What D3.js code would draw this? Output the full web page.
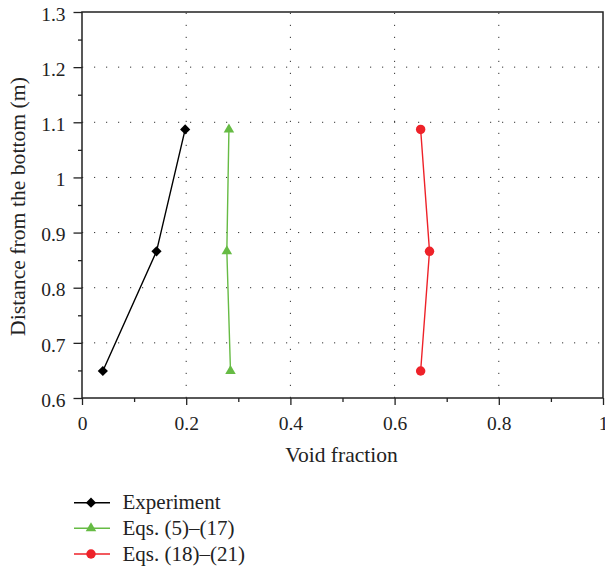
<!DOCTYPE html>
<html><head><meta charset="utf-8">
<script src="https://cdn.jsdelivr.net/npm/d3@7"></script>
<style>body{margin:0;background:#fff}svg{display:block}text{font-family:"Liberation Serif","DejaVu Serif",serif;fill:#222}</style>
</head><body><svg id="c" width="605" height="569"></svg>
<script>
const xTicks = [0, 0.2, 0.4, 0.6, 0.8, 1];
const yTicks = [0.6, 0.7, 0.8, 0.9, 1, 1.1, 1.2, 1.3];
const xTickLabels = ["0", "0.2", "0.4", "0.6", "0.8", "1"];
const yTickLabels = ["0.6", "0.7", "0.8", "0.9", "1", "1.1", "1.2", "1.3"];
const seriesNames = ["Experiment", "Eqs. (5)\u2013(17)", "Eqs. (18)\u2013(21)"];
const heights = [0.649, 0.866, 1.087];
const experiment = [0.040, 0.143, 0.198];
const eqs5to17 = [0.285, 0.278, 0.282];
const eqs18to21 = [0.650, 0.667, 0.650];
const colors = ["#000000", "#66bb44", "#ee2229"];
const symbols = [d3.symbolSquare, d3.symbolTriangle, d3.symbolCircle];
const symSizes = [52, 48, 70];
const symRot = [45, 0, 0];

const svg = d3.select("#c");
const L = 82, R = 603, T = 12, B = 398;
const x = d3.scaleLinear().domain([0, 1]).range([L, R]);
const y = d3.scaleLinear().domain([0.6, 1.3]).range([B, T]);

function fit(sel, target, base) {
  const len = sel.node().getComputedTextLength();
  sel.attr("font-size", base * target / len);
}

// grid
const g = svg.append("g");
g.selectAll(".gx").data(xTicks.slice(1, -1)).enter().append("line")
  .attr("x1", d => x(d)).attr("x2", d => x(d)).attr("y1", B).attr("y2", T)
  .attr("stroke", "#333").attr("stroke-width", 1).attr("stroke-dasharray", "1.2,10.8");
g.selectAll(".gy").data(yTicks.slice(1, -1)).enter().append("line")
  .attr("y1", d => y(d)).attr("y2", d => y(d)).attr("x1", L).attr("x2", R)
  .attr("stroke", "#333").attr("stroke-width", 1).attr("stroke-dasharray", "1.2,10.8");

// axes
const xAxis = svg.append("g").attr("transform", `translate(0,${B})`)
  .call(d3.axisBottom(x).tickValues(xTicks).tickFormat((d, i) => xTickLabels[i]).tickSizeOuter(0).tickSize(7).tickPadding(11));
const xMinor = svg.append("g").attr("transform", `translate(0,${B})`)
  .call(d3.axisBottom(x).tickValues(d3.range(0.1, 1, 0.2)).tickFormat("").tickSizeOuter(0).tickSize(4));
const yAxis = svg.append("g").attr("transform", `translate(${L},0)`)
  .call(d3.axisLeft(y).tickValues(yTicks).tickFormat((d, i) => yTickLabels[i]).tickSizeOuter(0).tickSize(8.5).tickPadding(8));
const yMinor = svg.append("g").attr("transform", `translate(${L},0)`)
  .call(d3.axisLeft(y).tickValues(d3.range(0.65, 1.3, 0.1)).tickFormat("").tickSizeOuter(0).tickSize(4));
[xAxis, xMinor, yAxis, yMinor].forEach(a => {
  a.select(".domain").remove();
  a.selectAll("line").attr("stroke", "#222").attr("stroke-width", 1.3);
  a.selectAll("text").attr("font-size", 19.5).attr("fill", "#222").attr("font-family", "Liberation Serif");
});
yAxis.selectAll("text").attr("dy", "0.42em");
svg.append("rect").attr("x", L).attr("y", T).attr("width", R - L).attr("height", B - T)
  .attr("fill", "none").attr("stroke", "#222").attr("stroke-width", 1.5);

// axis titles
const xt = svg.append("text").attr("x", 341.5).attr("y", 462).attr("text-anchor", "middle")
  .attr("font-size", 20).text("Void fraction");
fit(xt, 112.5, 20);
const yt = svg.append("text").attr("transform", `translate(25,206.5) rotate(-90)`).attr("text-anchor", "middle")
  .attr("font-size", 20).text("Distance from the bottom (m)");
fit(yt, 259, 20);

// series
const series = [experiment, eqs5to17, eqs18to21];
const line = d3.line().x(d => x(d[0])).y(d => y(d[1]));
series.forEach((vals, i) => {
  const pts = vals.map((v, j) => [v, heights[j]]);
  svg.append("path").attr("d", line(pts)).attr("fill", "none").attr("stroke", colors[i]).attr("stroke-width", 1.4);
  svg.selectAll(null).data(pts).enter().append("path")
    .attr("transform", d => `translate(${x(d[0])},${y(d[1])}) rotate(${symRot[i]})`)
    .attr("d", d3.symbol().type(symbols[i]).size(symSizes[i]))
    .attr("fill", colors[i]);
});

// legend
const legY = [502.7, 528.3, 554];
let legSize = 20;
seriesNames.forEach((name, i) => {
  const lg = svg.append("g").attr("transform", `translate(0,${legY[i]})`);
  lg.append("line").attr("x1", 74).attr("x2", 110).attr("stroke", colors[i]).attr("stroke-width", 1.4);
  lg.append("path").attr("transform", `translate(91,0) rotate(${symRot[i]})`)
    .attr("d", d3.symbol().type(symbols[i]).size(symSizes[i])).attr("fill", colors[i]);
  const t = lg.append("text").attr("x", 122.5).attr("y", 6.6).attr("font-size", 20).text(name);
  if (i === 0) { fit(t, 98, 20); legSize = +t.attr("font-size"); }
  else t.attr("font-size", legSize);
});
</script></body></html>
